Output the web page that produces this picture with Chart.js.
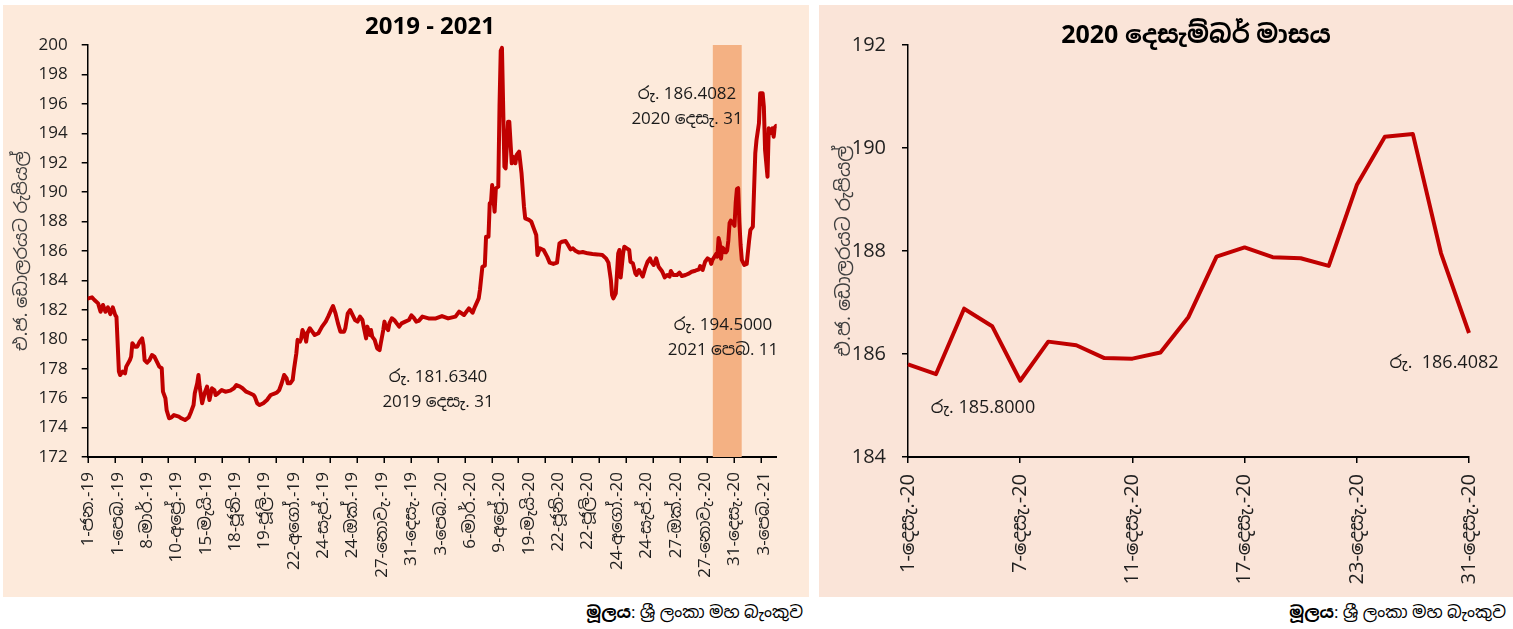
<!DOCTYPE html>
<html>
<head>
<meta charset="utf-8">
<script src="https://cdn.jsdelivr.net/npm/chart.js@4.4.1/dist/chart.umd.min.js"></script>
<style>
  body { margin: 0; background: #fff; width: 1513px; height: 629px; overflow: hidden; position: relative; font-family: "Open Sans", "Noto Sans Sinhala", sans-serif }
  .painel { position: absolute; top: 5px; height: 592px }
  #painelAnos { left: 3px; width: 806px; background: #fdeadb }
  #painelDezembro { left: 819px; width: 694px; background: #fae4d8 }
  .fonte { position: absolute; top: 600px; font-size: 17px; color: #000; white-space: nowrap }
</style>
</head>
<body>
<div class="painel" id="painelAnos"><canvas id="chartAnos" width="806" height="592"></canvas></div>
<div class="painel" id="painelDezembro"><canvas id="chartDezembro" width="694" height="592"></canvas></div>
<div class="fonte" style="right:710px"><b>මූලය</b>: ශ්‍රී ලංකා මහ බැංකුව</div>
<div class="fonte" style="right:7px"><b>මූලය</b>: ශ්‍රී ලංකා මහ බැංකුව</div>

<script>
// rotulos do eixo x (um a cada 24 dias de negociacao)
const rotulosAnos = [
  "1-ජන.-19", "1-පෙබ.-19", "8-මාර්.-19", "10-අප්‍රේ.-19", "15-මැයි-19", "18-ජූනි-19",
  "19-ජූලි-19", "22-අගෝ.-19", "24-සැප්.-19", "24-ඔක්.-19", "27-නොවැ.-19", "31-දෙසැ.-19",
  "3-පෙබ.-20", "6-මාර්.-20", "9-අප්‍රේ.-20", "19-මැයි-20", "22-ජූනි-20", "22-ජූලි-20",
  "24-අගෝ.-20", "24-සැප්.-20", "27-ඔක්.-20", "27-නොවැ.-20", "31-දෙසැ.-20", "3-පෙබ.-21"
]
const totalDias = 563

// 2019 ate novembro 2020 (indice do dia, taxa)
const indicesAntes = [
  0, 3, 5, 8, 10, 12, 14, 16, 18, 20, 22, 23, 25, 26, 28, 30, 31, 34, 35, 36, 38, 40, 42, 44, 45, 46, 48, 50,
  52, 54, 56, 58, 60, 61, 63, 64, 66, 68, 70, 74, 76, 79, 82, 84, 86, 87, 89, 90, 91, 93, 95, 97, 99, 101,
  103, 104, 106, 109, 112, 116, 119, 121, 124, 126, 129, 132, 135, 136, 138, 140, 143, 146, 149, 151, 154,
  156, 158, 160, 162, 163, 165, 167, 168, 170, 171, 173, 174, 175, 177, 178, 179, 181, 183, 185, 188, 191,
  194, 196, 199, 200, 202, 204, 206, 209, 210, 212, 214, 216, 218, 220, 222, 224, 225, 227, 228, 230, 231,
  232, 234, 236, 238, 239, 241, 242, 243, 245, 246, 248, 250, 252, 254, 256, 259, 262, 264, 266, 268, 270,
  273, 278, 284, 289, 294, 300, 303, 307, 311, 314, 316, 319, 320, 322, 324, 325, 327, 328, 329, 330, 332,
  333, 335, 336, 337, 338, 340, 341, 343, 344, 346, 347, 349, 350, 352, 354, 356, 357, 360, 362, 364, 366,
  367, 369, 372, 375, 377, 380, 383, 385, 387, 390, 392, 394, 396, 398, 401, 404, 408, 412, 416, 420, 423,
  425, 427, 428, 429, 431, 432, 433, 434, 435, 437, 438, 440, 442, 443, 445, 447, 448, 450, 453, 455, 457,
  459, 460, 462, 464, 466, 468, 469, 471, 473, 475, 476, 478, 481, 483, 485, 488, 491, 493, 496, 499, 500,
  502, 504, 506, 508, 509, 510
]
const valoresAntes = [
  182.78, 182.85, 182.67, 182.44, 181.87, 182.33, 181.87, 182.17, 181.71, 182.17, 181.65, 181.53, 177.80,
  177.57, 177.80, 177.69, 178.14, 178.59, 178.82, 179.73, 179.50, 179.50, 179.84, 180.06, 179.61, 178.59,
  178.41, 178.59, 178.93, 178.82, 178.48, 178.14, 178.03, 176.44, 175.99, 175.19, 174.63, 174.69, 174.85,
  174.74, 174.63, 174.51, 174.69, 175.08, 175.53, 176.33, 177.01, 177.57, 176.78, 175.65, 176.33, 176.78,
  175.87, 176.67, 176.55, 176.21, 176.33, 176.55, 176.44, 176.51, 176.67, 176.89, 176.78, 176.67, 176.44,
  176.33, 176.21, 176.10, 175.65, 175.53, 175.65, 175.87, 176.21, 176.28, 176.37, 176.55, 177.01, 177.57,
  177.35, 177.01, 177.01, 177.24, 177.92, 179.05, 179.96, 179.84, 180.06, 180.63, 180.29, 179.84, 180.41,
  180.75, 180.52, 180.29, 180.41, 180.86, 181.20, 181.54, 182.10, 182.26, 181.76, 181.08, 180.52, 180.52,
  180.75, 181.76, 181.99, 181.65, 181.31, 181.20, 181.54, 181.31, 180.86, 180.06, 180.86, 180.29, 180.63,
  180.18, 179.96, 179.39, 179.27, 179.73, 180.63, 181.20, 180.86, 180.63, 181.08, 181.43, 181.31, 181.08,
  180.86, 181.08, 181.20, 181.31, 181.63, 181.45, 181.20, 181.25, 181.54, 181.42, 181.42, 181.58, 181.42,
  181.54, 181.88, 181.65, 182.10, 181.81, 182.22, 182.78, 183.35, 184.93, 185.00, 186.97, 186.97, 189.24,
  189.24, 190.48, 188.67, 190.26, 190.37, 195.81, 199.60, 199.80, 191.73, 191.62, 194.79, 194.79, 191.96,
  192.41, 191.96, 192.53, 192.75, 191.28, 189.01, 188.22, 188.11, 187.99, 187.54, 187.09, 185.73, 186.18,
  186.07, 185.60, 185.21, 185.12, 185.21, 186.52, 186.63, 186.68, 186.41, 186.11, 186.18, 186.02, 185.89,
  185.93, 185.84, 185.80, 185.77, 185.73, 185.50, 185.21, 184.03, 183.01, 182.78, 183.12, 184.48, 185.84,
  186.07, 184.20, 185.84, 186.29, 186.18, 186.07, 185.27, 185.16, 184.48, 184.37, 184.71, 184.26, 184.82,
  185.27, 185.50, 185.27, 185.05, 185.50, 184.93, 184.71, 184.59, 184.21, 184.37, 184.26, 184.64, 184.37,
  184.37, 184.53, 184.30, 184.37, 184.48, 184.59, 184.66, 184.75, 184.98, 184.71, 185.27, 185.50, 185.39,
  185.12, 185.39
]

// dezembro 2020
const inicioDezembro = 513
const rotulosDezembro = [
  "1-දෙසැ.-20", "2-දෙසැ.-20", "3-දෙසැ.-20", "4-දෙසැ.-20", "7-දෙසැ.-20", "8-දෙසැ.-20", "9-දෙසැ.-20",
  "10-දෙසැ.-20", "11-දෙසැ.-20", "14-දෙසැ.-20", "15-දෙසැ.-20", "16-දෙසැ.-20", "17-දෙසැ.-20", "18-දෙසැ.-20",
  "21-දෙසැ.-20", "22-දෙසැ.-20", "23-දෙසැ.-20", "24-දෙසැ.-20", "28-දෙසැ.-20", "30-දෙසැ.-20", "31-දෙසැ.-20"
]
const valoresDezembro = [
  185.80, 185.61, 186.88, 186.54, 185.48, 186.24, 186.17, 185.92, 185.91, 186.03, 186.72,
  187.89, 188.07, 187.88, 187.86, 187.71, 189.28, 190.22, 190.27, 187.96, 186.4082
]

// janeiro - fevereiro 2021
const indicesDepois = [534, 536, 538, 540, 541, 542, 543, 545, 546, 548, 549, 551, 552, 553, 555, 556, 557, 559, 560, 561, 562]
const valoresDepois = [
  185.39, 185.05, 185.12, 186.75, 187.43, 187.54, 187.65, 192.64, 193.54, 194.68, 196.72, 196.72,
  195.81, 192.86, 191.05, 194.34, 194.00, 194.34, 193.77, 194.41, 194.50
]

const tituloEixoY = "එ.ජ. ඩොලරයට රුපියල්"
const vermelho = "#C00000"
const fonteBase = "'Segoe UI', 'Open Sans', 'Noto Sans Sinhala', sans-serif"

Chart.defaults.font.family = fonteBase
Chart.defaults.color = "#1f1f1f"

function montarSerieAnos() {
  const antes = indicesAntes.map((x, i) => ({ x, y: valoresAntes[i] }))
  const dez = valoresDezembro.map((y, i) => ({ x: inicioDezembro + i, y }))
  const depois = indicesDepois.map((x, i) => ({ x, y: valoresDepois[i] }))
  return antes.concat(dez, depois)
}

function pluginTextos(id, textos) {
  return {
    id,
    afterDraw(chart) {
      const ctx = chart.ctx
      ctx.save()
      ctx.fillStyle = "#1a1a1a"
      ctx.textAlign = "center"
      ctx.textBaseline = "middle"
      textos.forEach(t => {
        ctx.font = t.fonte
        ctx.fillStyle = t.cor || "#1a1a1a"
        t.linhas.forEach((linha, i) => ctx.fillText(linha, t.x, t.y + i * 25))
      })
      ctx.restore()
    }
  }
}

const pluginFaixa = {
  id: "faixaDezembro",
  beforeDatasetsDraw(chart) {
    const { ctx, chartArea, scales } = chart
    const x1 = scales.x.getPixelForValue(510.3)
    const x2 = scales.x.getPixelForValue(533.9)
    ctx.save()
    ctx.fillStyle = "#F4B183"
    ctx.fillRect(x1, chartArea.top, x2 - x1, chartArea.bottom - chartArea.top)
    ctx.restore()
  }
}

// marcas do eixo x a cada 22 dias (os rotulos vao a cada 24)
const pluginMarcas = {
  id: "marcasX",
  afterDraw(chart) {
    const { ctx, chartArea, scales } = chart
    ctx.save()
    ctx.strokeStyle = "#000"
    ctx.lineWidth = 1.5
    for (let v = -0.5; v <= totalDias - 0.5; v += 22) {
      const x = Math.round(scales.x.getPixelForValue(v)) + 0.25
      ctx.beginPath()
      ctx.moveTo(x, chartArea.bottom)
      ctx.lineTo(x, chartArea.bottom + 6)
      ctx.stroke()
    }
    ctx.restore()
  }
}

function renderGraficoAnos() {
  new Chart(document.getElementById("chartAnos"), {
    type: "line",
    data: {
      datasets: [{
        data: montarSerieAnos(),
        borderColor: vermelho,
        borderWidth: 4,
        pointRadius: 0,
        borderJoinStyle: "round",
        borderCapStyle: "round",
        tension: 0
      }]
    },
    options: {
      responsive: false,
      animation: false,
      layout: { padding: { left: 0, right: 32.3, top: 40, bottom: 0 } },
      plugins: {
        legend: { display: false },
        tooltip: { enabled: false },
        title: { display: false }
      },
      scales: {
        x: {
          type: "linear",
          min: -0.5,
          max: totalDias - 0.5,
          afterBuildTicks: scale => { scale.ticks = rotulosAnos.map((r, i) => ({ value: i * 24 })) },
          afterFit: scale => { scale.height = 140 },
          grid: { display: false, drawTicks: true, tickLength: 6 },
          border: { display: true, color: "#000", width: 2 },
          ticks: {
            autoSkip: false,
            minRotation: 90,
            maxRotation: 90,
            padding: 9,
            font: { size: 17 },
            callback: v => rotulosAnos[v / 24]
          }
        },
        y: {
          min: 172,
          max: 200,
          afterFit: scale => { scale.width = 84.7 },
          grid: { drawOnChartArea: false, color: "#000", lineWidth: 1.5, tickLength: 6 },
          border: { display: true, color: "#000", width: 1.5 },
          ticks: { stepSize: 2, padding: 14, font: { size: 17 } },
          title: { display: true, text: tituloEixoY, font: { size: 18 }, color: "#404040", padding: { top: 8, bottom: 0 } }
        }
      }
    },
    plugins: [pluginFaixa, pluginMarcas, pluginTextos("notasAnos", [
      { x: 427, y: 22, linhas: ["2019 - 2021"], fonte: "bold 24px " + fonteBase, cor: "#000" },
      { x: 684, y: 89, linhas: ["රු. 186.4082", "2020 දෙසැ. 31"], fonte: "17px " + fonteBase },
      { x: 720, y: 320, linhas: ["රු. 194.5000", "2021 පෙබ. 11"], fonte: "17px " + fonteBase },
      { x: 435, y: 372, linhas: ["රු. 181.6340", "2019 දෙසැ. 31"], fonte: "17px " + fonteBase }
    ])]
  })
}

function renderGraficoDezembro() {
  new Chart(document.getElementById("chartDezembro"), {
    type: "line",
    data: {
      labels: rotulosDezembro,
      datasets: [{
        data: valoresDezembro,
        borderColor: vermelho,
        borderWidth: 4,
        pointRadius: 0,
        borderJoinStyle: "round",
        tension: 0
      }]
    },
    options: {
      responsive: false,
      animation: false,
      layout: { padding: { left: 0, right: 44, top: 40, bottom: 0 } },
      plugins: {
        legend: { display: false },
        tooltip: { enabled: false },
        title: { display: false }
      },
      scales: {
        x: {
          type: "category",
          offset: false,
          afterBuildTicks: scale => { scale.ticks = scale.ticks.filter((t, i) => i % 4 === 0) },
          afterFit: scale => { scale.height = 140 },
          grid: { drawOnChartArea: false, color: "#000", lineWidth: 1.5, tickLength: 6 },
          border: { display: true, color: "#000", width: 2 },
          ticks: {
            autoSkip: false,
            minRotation: 90,
            maxRotation: 90,
            padding: 11,
            font: { size: 20 }
          }
        },
        y: {
          min: 184,
          max: 192,
          afterFit: scale => { scale.width = 89 },
          grid: { drawOnChartArea: false, color: "#000", lineWidth: 1.5, tickLength: 6 },
          border: { display: true, color: "#000", width: 1.5 },
          ticks: { stepSize: 2, padding: 16, font: { size: 20 } },
          title: { display: true, text: tituloEixoY, font: { size: 19 }, color: "#404040", padding: { top: 14, bottom: 0 } }
        }
      }
    },
    plugins: [pluginTextos("notasDezembro", [
      { x: 377, y: 31, linhas: ["2020 දෙසැම්බර් මාසය"], fonte: "bold 25px " + fonteBase, cor: "#000" },
      { x: 164, y: 403, linhas: ["රු. 185.8000"], fonte: "18px " + fonteBase },
      { x: 625, y: 358, linhas: ["රු.  186.4082"], fonte: "18px " + fonteBase }
    ])]
  })
}

renderGraficoAnos()
renderGraficoDezembro()
</script>
</body>
</html>
